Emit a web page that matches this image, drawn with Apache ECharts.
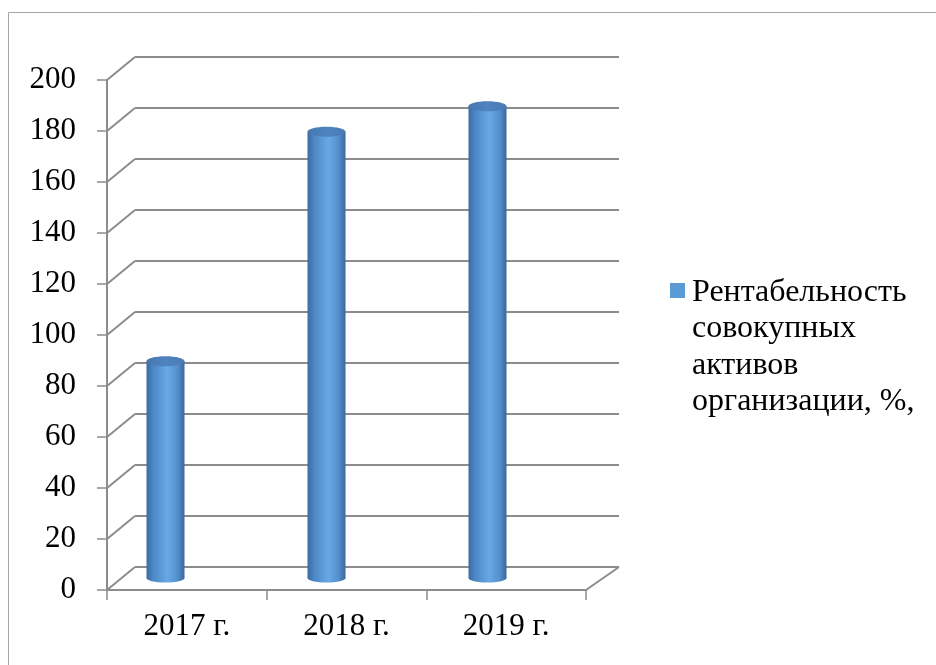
<!DOCTYPE html>
<html><head><meta charset="utf-8">
<script src="https://cdn.jsdelivr.net/npm/echarts@6/dist/echarts.min.js"></script>
<style>html,body{margin:0;padding:0;background:#fff}#c{width:936px;height:665px}</style>
</head><body><div id="c"></div>
<script>
// ---- data ----
const categories = ['2017 г.', '2018 г.', '2019 г.'];
const values = [85, 175, 185];
const seriesName = 'Рентабельность совокупных активов организации, %,';
const legendLines = ['Рентабельность', 'совокупных', 'активов', 'организации, %,'];
const yTicks = [0, 20, 40, 60, 80, 100, 120, 140, 160, 180, 200];

// ---- style ----
const FONT = '"Liberation Serif","Times New Roman",serif';
const GRID_COLOR = '#8c8c8c';
const DEPTH_L = [28, -23];
const DEPTH_R = [33, -23];

const chart = echarts.init(document.getElementById('c'), null, {renderer: 'canvas'});

function bodyGrad() {
  return new echarts.graphic.LinearGradient(0, 0, 1, 0, [
    {offset: 0, color: '#3b6ca4'},
    {offset: 0.18, color: '#4c87c6'},
    {offset: 0.55, color: '#68a8e5'},
    {offset: 0.82, color: '#548fcd'},
    {offset: 1, color: '#3a679c'}
  ]);
}
function capGrad() {
  return new echarts.graphic.LinearGradient(0, 0, 1, 0, [
    {offset: 0, color: '#4676ae'},
    {offset: 0.5, color: '#4f84c0'},
    {offset: 1, color: '#4a7bb3'}
  ]);
}

const diagData = yTicks.map(v => [0, v, 0]).concat([[categories.length - 1, 0, 1]]);

const option = {
  animation: false,
  backgroundColor: '#ffffff',
  graphic: [{
    type: 'rect', silent: true, z: -10,
    shape: {x: 8.5, y: 12.5, width: 940, height: 660},
    style: {fill: 'none', stroke: '#a6a6a6', lineWidth: 1}
  }],
  grid: [
    {left: 107, top: 80, width: 479, height: 510},
    {left: 135, top: 57, width: 484, height: 510},
    {left: 85, top: 68, width: 483, height: 510}
  ],
  xAxis: [
    {gridIndex: 0, type: 'category', data: categories,
     axisLine: {show: true, lineStyle: {color: GRID_COLOR, width: 2}},
     axisTick: {show: true, length: 10, lineStyle: {color: GRID_COLOR, width: 1.5}},
     axisLabel: {color: '#000', fontFamily: FONT, fontSize: 31, margin: 21}},
    {gridIndex: 1, type: 'category', data: categories, show: false},
    {gridIndex: 2, type: 'category', data: categories, show: false}
  ],
  yAxis: [
    {gridIndex: 0, type: 'value', min: 0, max: 200, interval: 20,
     axisLine: {show: true, lineStyle: {color: GRID_COLOR, width: 2}},
     axisTick: {show: true, length: 10, lineStyle: {color: GRID_COLOR, width: 1.5}},
     splitLine: {show: false},
     axisLabel: {color: '#000', fontFamily: FONT, fontSize: 31, margin: 31}},
    {gridIndex: 1, type: 'value', min: 0, max: 200, interval: 20,
     axisLine: {show: false}, axisTick: {show: false}, axisLabel: {show: false},
     splitLine: {show: true, lineStyle: {color: GRID_COLOR, width: 2}}},
    {gridIndex: 2, type: 'value', min: 0, max: 200, show: false}
  ],
  legend: {
    data: [seriesName],
    left: 665, top: 269,
    orient: 'vertical',
    icon: 'path://M0,0h15v15h-15z M0,127.99h15v0.01h-15z',
    itemWidth: 15, itemHeight: 128,
    formatter: () => legendLines.join('\n'),
    textStyle: {fontFamily: FONT, fontSize: 32, color: '#000', lineHeight: 36.5, padding: [0, 0, 0, 2]}
  },
  series: [
    {
      type: 'custom', name: 'grid-depth', silent: true,
      xAxisIndex: 0, yAxisIndex: 0,
      data: diagData,
      renderItem(params, api) {
        const cs = params.coordSys;
        const y = api.coord([0, api.value(1)])[1];
        const right = api.value(2) === 1;
        const x = right ? cs.x + cs.width : cs.x;
        const d = right ? DEPTH_R : DEPTH_L;
        return {type: 'line', shape: {x1: x, y1: y, x2: x + d[0], y2: y + d[1]},
                style: {stroke: GRID_COLOR, lineWidth: 2}};
      },
      z: 1
    },
    {
      type: 'custom', name: seriesName,
      xAxisIndex: 2, yAxisIndex: 2,
      itemStyle: {color: '#5b9bd5'},
      data: values.map((v, i) => [i, v]),
      renderItem(params, api) {
        const top = api.coord([api.value(0), api.value(1)]);
        const base = api.coord([api.value(0), 0]);
        const w = api.size([1, 0])[0] * 0.236;
        const rx = w / 2;
        return {type: 'group', children: [
          {type: 'ellipse', shape: {cx: base[0], cy: base[1], rx: rx, ry: 4.5}, style: {fill: bodyGrad()}},
          {type: 'rect', shape: {x: top[0] - rx, y: top[1], width: w, height: base[1] - top[1]}, style: {fill: bodyGrad()}},
          {type: 'ellipse', shape: {cx: top[0], cy: top[1], rx: rx, ry: 5}, style: {fill: capGrad()}}
        ]};
      },
      z: 3
    }
  ]
};
chart.setOption(option);
</script>
</body></html>
